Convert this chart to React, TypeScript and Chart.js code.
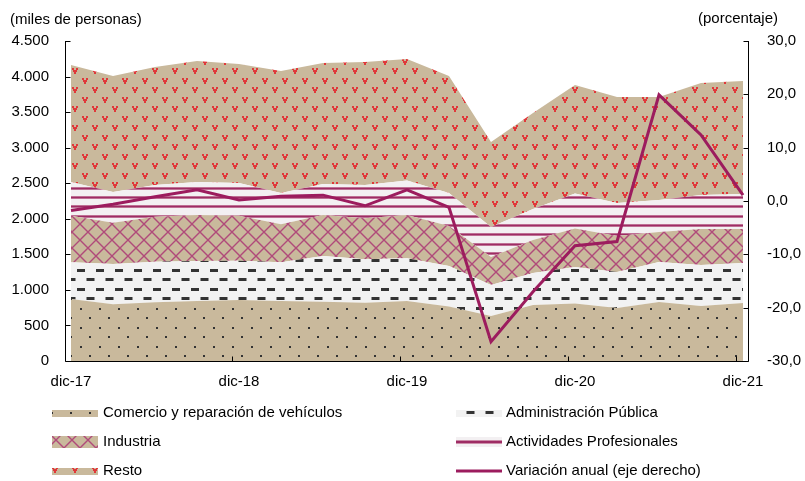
import React, { useEffect, useRef } from "react";
import { Chart, registerables } from "chart.js";

Chart.register(...registerables);

// ---- DATA ----
const quarters = [
  "dic-17", "mar-18", "jun-18", "sep-18", "dic-18", "mar-19", "jun-19", "sep-19",
  "dic-19", "mar-20", "jun-20", "sep-20", "dic-20", "mar-21", "jun-21", "sep-21", "dic-21",
];
const xTickLabels = ["dic-17", "dic-18", "dic-19", "dic-20", "dic-21"];
const comercio = [872, 797, 825, 844, 858, 844, 834, 820, 844, 766, 633, 788, 809, 745, 830, 773, 816];
const administracion = [516, 567, 572, 562, 553, 544, 643, 610, 600, 570, 436, 450, 513, 507, 562, 577, 562];
const industria = [655, 581, 632, 647, 632, 534, 576, 576, 609, 562, 394, 464, 541, 506, 422, 506, 478];
const profesionales = [474, 432, 446, 464, 460, 441, 436, 469, 485, 465, 421, 436, 492, 464, 450, 478, 492];
const resto = [1646, 1631, 1659, 1702, 1674, 1715, 1702, 1730, 1709, 1645, 1196, 1350, 1526, 1491, 1449, 1575, 1590];
const variacion = [-1.8, -0.6, 0.8, 2.1, 0.2, 0.9, 1.1, -0.9, 2.1, -1.2, -26.4, -17.0, -8.4, -7.6, 19.9, 12.4, 1.1];

const seriesNames = [
  "Comercio y reparación de vehículos",
  "Administración Pública",
  "Industria",
  "Actividades Profesionales",
  "Resto",
  "Variación anual (eje derecho)",
];
const leftTitle = "(miles de personas)";
const rightTitle = "(porcentaje)";

// ---- STYLE ----
const TAN = "#C9B99C";
const LINE = "#9C1C5E";
const FONT = '15px "Liberation Sans", Arial, sans-serif';

function makePattern(w: number, h: number, draw: (c: CanvasRenderingContext2D) => void) {
  const c = document.createElement("canvas");
  c.width = w;
  c.height = h;
  const ctx = c.getContext("2d")!;
  draw(ctx);
  const tmp = document.createElement("canvas").getContext("2d")!;
  return tmp.createPattern(c, "repeat")!;
}

function buildPatterns() {
  const dots = makePattern(19, 19, (c) => {
    c.fillStyle = TAN;
    c.fillRect(0, 0, 19, 19);
    c.fillStyle = "#333333";
    c.fillRect(4, 4, 2, 2);
    c.fillRect(13, 13, 2, 2);
  });
  const dashes = makePattern(19, 19, (c) => {
    c.fillStyle = "#F2F2F2";
    c.fillRect(0, 0, 19, 19);
    c.fillStyle = "#333333";
    c.fillRect(1, 3, 8, 3);
    c.fillRect(10.5, 12, 8, 3);
  });
  const cross = makePattern(16, 16, (c) => {
    c.fillStyle = TAN;
    c.fillRect(0, 0, 16, 16);
    c.strokeStyle = "#B04A7A";
    c.lineWidth = 1.4;
    c.beginPath();
    c.moveTo(-2, -2);
    c.lineTo(18, 18);
    c.moveTo(18, -2);
    c.lineTo(-2, 18);
    c.stroke();
  });
  const stripes = makePattern(4, 28, (c) => {
    c.fillStyle = "#F3F0F2";
    c.fillRect(0, 0, 4, 28);
    for (const y0 of [0, 9, 19]) {
      c.fillStyle = "#CC8EAA";
      c.fillRect(0, y0, 4, 3);
      c.fillStyle = "#9E2C64";
      c.fillRect(0, y0 + 0.7, 4, 1.6);
    }
  });
  const hearts = makePattern(20, 19, (c) => {
    c.fillStyle = TAN;
    c.fillRect(0, 0, 20, 19);
    c.fillStyle = "#E0383A";
    const mark = (x: number, y: number) => {
      c.fillRect(x - 3, y - 2, 2, 2);
      c.fillRect(x + 1, y - 2, 2, 2);
      c.fillRect(x - 2, y, 2, 2);
      c.fillRect(x, y, 2, 2);
      c.fillRect(x - 1, y + 2, 2, 2);
    };
    mark(5, 4);
    mark(15, 13);
  });
  return { dots, dashes, cross, stripes, hearts };
}

const fmtThousands = (v: number) => String(v).replace(/\B(?=(\d{3})+(?!\d))/g, ".");
const fmtPct = (v: number) => v.toFixed(1).replace(".", ",");

export default function App() {
  const ref = useRef<HTMLCanvasElement | null>(null);

  useEffect(() => {
    if (!ref.current) return;
    const P = buildPatterns();
    const mk = (vals: number[]) => quarters.map((_, i) => ({ x: i, y: vals[i] }));
    const area = (label: string, vals: number[], bg: CanvasPattern, fill: any) => ({
      label,
      data: mk(vals),
      backgroundColor: bg,
      borderColor: "rgba(0,0,0,0)",
      borderWidth: 0,
      pointRadius: 0,
      fill,
      yAxisID: "y",
      order: 2,
      tension: 0,
    });

    const axesPlugin = {
      id: "axesAndLegend",
      afterDraw(chart: any) {
        const { ctx, chartArea: a, scales } = chart;
        const L = Math.round(a.left) + 0.5;
        const R = Math.round(a.right) - 0.5;
        const B = Math.round(a.bottom) + 0.5;
        const T = Math.round(a.top);
        ctx.save();
        ctx.strokeStyle = "#000";
        ctx.lineWidth = 1;
        ctx.beginPath();
        ctx.moveTo(L, T);
        ctx.lineTo(L, B);
        ctx.lineTo(R, B);
        ctx.lineTo(R, T);
        for (let v = 0; v <= 4500; v += 500) {
          const y = Math.round(scales.y.getPixelForValue(v)) + 0.5;
          ctx.moveTo(L, y);
          ctx.lineTo(L + 5, y);
        }
        for (let v = -30; v <= 30; v += 10) {
          const y = Math.round(scales.y1.getPixelForValue(v)) + 0.5;
          ctx.moveTo(R, y);
          ctx.lineTo(R - 5, y);
        }
        for (let k = 1; k <= 4; k++) {
          const x = Math.round(scales.x.getPixelForValue(4 * k - 0.16)) + 0.5;
          ctx.moveTo(x, B);
          ctx.lineTo(x, B - 5);
        }
        ctx.stroke();

        ctx.fillStyle = "#000";
        ctx.font = FONT;
        ctx.textBaseline = "middle";
        ctx.textAlign = "left";
        ctx.fillText(leftTitle, 10, 20);
        ctx.fillText(rightTitle, 698, 19);

        const rows = [413, 442, 471];
        const c1 = 52, c2 = 456, sw = 46;
        ctx.fillStyle = P.dots;
        ctx.fillRect(c1, 410, sw, 7);
        ctx.fillStyle = P.cross;
        ctx.fillRect(c1, 436, sw, 12);
        ctx.fillStyle = P.hearts;
        ctx.fillRect(c1, 468, sw, 7);
        ctx.fillStyle = P.dashes;
        ctx.fillRect(c2, 410, sw, 7);
        ctx.fillStyle = "#F3F0F2";
        ctx.fillRect(c2, 437, sw, 10);
        ctx.fillStyle = "#CC8EAA";
        ctx.fillRect(c2, 440, sw, 4);
        ctx.fillStyle = "#9E2C64";
        ctx.fillRect(c2, 441, sw, 2);
        ctx.strokeStyle = LINE;
        ctx.lineWidth = 3;
        ctx.beginPath();
        ctx.moveTo(c2, 471);
        ctx.lineTo(c2 + sw, 471);
        ctx.stroke();

        ctx.fillStyle = "#000";
        ctx.font = FONT;
        ctx.textBaseline = "middle";
        ctx.fillText(seriesNames[0], 103, rows[0]);
        ctx.fillText(seriesNames[2], 103, rows[1]);
        ctx.fillText(seriesNames[4], 103, rows[2]);
        ctx.fillText(seriesNames[1], 506, rows[0]);
        ctx.fillText(seriesNames[3], 506, rows[1]);
        ctx.fillText(seriesNames[5], 506, rows[2]);
        ctx.restore();
      },
    };

    const tickFont = { family: '"Liberation Sans", Arial, sans-serif', size: 15 };

    const chart = new Chart(ref.current, {
      type: "line",
      data: {
        datasets: [
          area(seriesNames[0], comercio, P.dots, "origin"),
          area(seriesNames[1], administracion, P.dashes, "-1"),
          area(seriesNames[2], industria, P.cross, "-1"),
          area(seriesNames[3], profesionales, P.stripes, "-1"),
          area(seriesNames[4], resto, P.hearts, "-1"),
          {
            label: seriesNames[5],
            data: mk(variacion),
            borderColor: LINE,
            backgroundColor: LINE,
            borderWidth: 3,
            pointRadius: 0,
            fill: false,
            yAxisID: "y1",
            order: 0,
            tension: 0,
          } as any,
        ],
      },
      options: {
        responsive: false,
        animation: false,
        devicePixelRatio: 1,
        layout: { padding: { top: 41, left: 0, right: 0, bottom: 0 } },
        plugins: { legend: { display: false }, tooltip: { enabled: false } },
        scales: {
          x: {
            type: "linear",
            min: -0.143,
            max: 16.143,
            grid: { display: false, drawTicks: false },
            border: { display: false },
            afterBuildTicks: (s: any) => {
              s.ticks = [0, 4, 8, 12, 16].map((v) => ({ value: v }));
            },
            ticks: {
              autoSkip: false,
              maxRotation: 0,
              padding: 12,
              color: "#000",
              font: tickFont,
              callback: (_v: any, i: number) => xTickLabels[i],
            },
            afterFit: (s: any) => {
              s.height = 120;
            },
          },
          y: {
            type: "linear",
            position: "left",
            stacked: true,
            min: 0,
            max: 4500,
            grid: { display: false, drawTicks: false },
            border: { display: false },
            ticks: {
              stepSize: 500,
              padding: 16,
              color: "#000",
              font: tickFont,
              callback: (v: any) => fmtThousands(Number(v)),
            },
            afterFit: (s: any) => {
              s.width = 65;
            },
          },
          y1: {
            type: "linear",
            position: "right",
            stacked: false,
            min: -30,
            max: 30,
            grid: { display: false, drawTicks: false },
            border: { display: false },
            ticks: {
              stepSize: 10,
              padding: 18,
              color: "#000",
              font: tickFont,
              callback: (v: any) => fmtPct(Number(v)),
            },
            afterFit: (s: any) => {
              s.width = 56;
            },
          },
        },
      } as any,
      plugins: [axesPlugin],
    });
    return () => chart.destroy();
  }, []);

  return (
    <div style={{ position: "absolute", left: 0, top: 0, width: 805, height: 481, background: "#fff" }}>
      <canvas ref={ref} width={805} height={481} style={{ width: 805, height: 481, display: "block" }} />
    </div>
  );
}
